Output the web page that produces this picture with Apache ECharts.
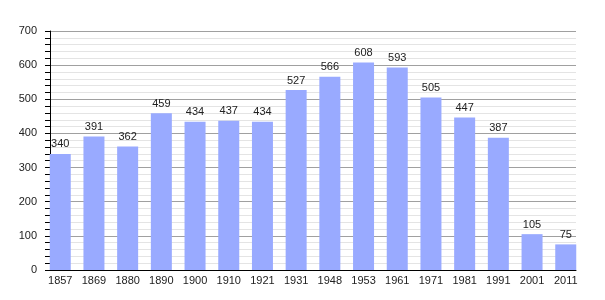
<!DOCTYPE html>
<html>
<head>
<meta charset="utf-8">
<script src="https://cdn.jsdelivr.net/npm/echarts@6/dist/echarts.min.js"></script>
<style>html,body{margin:0;padding:0;background:#fff}#c{width:605px;height:300px}</style>
</head>
<body>
<div id="c"></div>
<script>
const years = ['1857','1869','1880','1890','1900','1910','1921','1931','1948','1953','1961','1971','1981','1991','2001','2011'];
const population = [340,391,362,459,434,437,434,527,566,608,593,505,447,387,105,75];
const yMin = 0, yMax = 700, yStep = 100;

const font = 'Liberation Sans, Arial, sans-serif';
const chart = echarts.init(document.getElementById('c'), null, {renderer:'canvas'});
chart.setOption({
  animation: false,
  grid: [
    {left: 50, right: 29, top: 31, bottom: 30},
    {left: 43.4, right: 22.4, top: 31, bottom: 30}
  ],
  xAxis: [
    {type:'category', gridIndex:0, data: years, boundaryGap:true,
     axisLine:{show:true, lineStyle:{color:'#000', width:1}},
     axisTick:{show:false}, axisLabel:{show:false}, splitLine:{show:false}},
    {type:'category', gridIndex:1, data: years, boundaryGap:true,
     axisLine:{show:false}, axisTick:{show:false},
     axisLabel:{show:true, margin:5, fontFamily:font, fontSize:11, color:'#222'}}
  ],
  yAxis: [
    {type:'value', gridIndex:0, min:yMin, max:yMax, interval:yStep,
     axisLine:{show:true, lineStyle:{color:'#000', width:1}},
     axisTick:{show:true, inside:false, length:5, lineStyle:{color:'#000'}},
     minorTick:{show:true, splitNumber:5, length:5, lineStyle:{color:'#000'}},
     splitLine:{show:true, lineStyle:{color:'#a0a0a0', width:1}},
     minorSplitLine:{show:true, lineStyle:{color:'#e4e4e4', width:1}},
     axisLabel:{margin:13, fontFamily:font, fontSize:11, color:'#222'}},
    {type:'value', gridIndex:1, min:yMin, max:yMax, interval:yStep, show:false,
     splitLine:{show:false}}
  ],
  series: [{
    type:'bar', xAxisIndex:1, yAxisIndex:1, data: population, barWidth:21,
    itemStyle:{color:'#99aaff'},
    label:{show:true, position:'top', distance:4, fontFamily:font, fontSize:11, color:'#222'}
  }]
});
</script>
</body>
</html>
